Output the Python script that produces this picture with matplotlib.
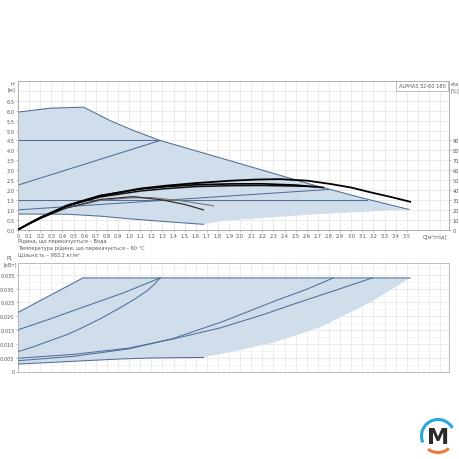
import numpy as np
import matplotlib
matplotlib.use('Agg')
import matplotlib.pyplot as plt
from matplotlib.patches import Arc

plt.rcParams['font.family'] = ['DejaVu Sans']

# ---- upper chart: head H [m] vs flow Q [m3/h]
q_max = [0, 0.29, 0.59, 0.83, 1.04, 1.28, 1.6, 2.0, 2.63, 3.1, 3.52]
h_max = [5.93, 6.13, 6.18, 5.5, 5.0, 4.5, 3.98, 3.33, 2.3, 1.6, 1.02]

q_cp_hi = [0, 1.28]
h_cp_hi = [4.5, 4.5]
q_pp_hi = [0, 1.28]
h_pp_hi = [2.25, 4.5]
q_cp_lo = [0, 3.14]
h_cp_lo = [1.5, 1.5]
q_pp_lo = [0, 2.8]
h_pp_lo = [1.0, 2.03]

q_min = [0, 0.45, 0.75, 1.0, 1.3, 1.67]
h_min = [0.79, 0.78, 0.68, 0.55, 0.42, 0.27]

q_edge = [1.67, 1.75, 1.85, 2.3, 2.72, 3.1, 3.52]
h_edge = [0.27, 0.36, 0.45, 0.63, 0.79, 0.9, 1.02]

# efficiency curves, eta [%]
q_eta1 = [0, 0.1, 0.2, 0.44, 0.74, 1.1, 1.34, 1.6, 1.91, 2.15, 2.36, 2.6, 2.81, 3.0, 3.17, 3.35, 3.53]
eta1 = [0, 6, 11.5, 24, 34, 41.5, 44.5, 47, 49.4, 50.6, 51, 49.5, 46.2, 42.5, 37.8, 33.2, 28.2]
q_eta2 = [0, 0.1, 0.2, 0.44, 0.74, 1.1, 1.34, 1.6, 1.91, 2.2, 2.5, 2.75]
eta2 = [0, 6.2, 12, 24.5, 34.5, 41, 43.5, 45.3, 46.2, 46.3, 45, 42.5]
q_eta3 = [0, 0.1, 0.2, 0.44, 0.74, 1.1, 1.34, 1.6, 1.91, 2.2, 2.5, 2.68]
eta3 = [0, 6.5, 12.5, 24, 33, 39, 41.5, 43.5, 44.4, 44.6, 44, 43.5]
q_eta4 = [0, 0.1, 0.2, 0.44, 0.74, 1.04, 1.3, 1.5, 1.67]
eta4 = [0, 6, 11.5, 22, 30.5, 33.4, 30, 25.5, 20]
q_eta5 = [0, 0.1, 0.2, 0.44, 0.74, 1.0, 1.2, 1.45, 1.76]
eta5 = [0, 6, 11.5, 22, 29.5, 32, 32.4, 29.5, 24.2]

# ---- lower chart: power P1 [kW]
q_pmax = [0, 0.585, 3.53]
p_max = [0.0214, 0.0339, 0.0339]
q_p_cphi = [0, 0.3, 0.585, 0.95, 1.28]
p_cphi = [0.0151, 0.0192, 0.0233, 0.0285, 0.0339]
q_p_pphi = [0, 0.15, 0.29, 0.45, 0.585, 0.75, 0.95, 1.05, 1.16, 1.22, 1.28]
p_pphi = [0.0072, 0.0091, 0.0112, 0.0135, 0.016, 0.0193, 0.0238, 0.0262, 0.0292, 0.0313, 0.0339]
q_p_cplo = [0, 0.5, 1.0, 1.4, 1.82, 2.2, 2.51, 2.85, 3.19]
p_cplo = [0.0048, 0.0062, 0.0085, 0.0118, 0.0158, 0.0205, 0.0248, 0.0293, 0.0339]
q_p_pplo = [0, 0.5, 1.0, 1.4, 1.85, 2.33, 2.6, 2.84]
p_pplo = [0.0039, 0.0055, 0.0082, 0.012, 0.0182, 0.0258, 0.0298, 0.0339]
q_pmin = [0, 0.3, 0.6, 0.9, 1.2, 1.67]
p_min = [0.0027, 0.0033, 0.0039, 0.0045, 0.0049, 0.0051]
q_pedge = [1.67, 1.75, 1.91, 2.3, 2.72, 3.17, 3.53]
p_pedge = [0.0051, 0.0058, 0.007, 0.0105, 0.016, 0.025, 0.0339]

x_ticks = np.round(np.arange(0, 3.51, 0.1), 1)
h_ticks = np.arange(0, 6.51, 0.5)
eta_ticks = np.arange(0, 91, 10)
p_ticks = np.arange(0, 0.0351, 0.005)

info = ['Рідина, що перекачується – Вода',
        'Температура рідини, що перекачується – 60 °C',
        'Щільність – 983.2 кг/м³']

FILL = '#d0deeb'
LINE = '#4f6e98'
GRID = '#e3e3e3'
SPINE = '#b0b0b0'
TXT = '#555555'
FS = 3.6
W, Hpx = 460, 460
XMAX = 3.88


def fx(px):
    return px / W


def fy(py):
    return 1 - py / Hpx


def style(ax):
    for s in ax.spines.values():
        s.set_color(SPINE)
        s.set_linewidth(0.6)
    ax.tick_params(length=1.5, width=0.4, color='#888888', labelsize=FS,
                   labelcolor=TXT, pad=1)


fig = plt.figure(figsize=(4.6, 4.6), dpi=100)

# upper chart
ax = fig.add_axes([fx(18), fy(230.7), fx(449 - 18), (230.7 - 82) / Hpx])
ax.set_xlim(0, XMAX)
ax.set_ylim(0, 7.5)
grid_x = np.round(np.arange(0, XMAX, 0.1), 1)
for g in grid_x:
    ax.axvline(g, color=GRID, lw=0.5, zorder=0)
for g in np.arange(0.5, 7.5, 0.5):
    ax.axhline(g, color=GRID, lw=0.5, zorder=0)

poly_q = list(q_max) + q_edge[::-1] + q_min[::-1]
poly_h = list(h_max) + h_edge[::-1] + h_min[::-1]
ax.fill(poly_q, poly_h, color=FILL, lw=0, zorder=1)

for q, h in [(q_max, h_max), (q_cp_hi, h_cp_hi), (q_pp_hi, h_pp_hi),
             (q_cp_lo, h_cp_lo), (q_pp_lo, h_pp_lo), (q_min, h_min)]:
    ax.plot(q, h, color=LINE, lw=0.75, zorder=3)

ax.set_xticks(x_ticks)
ax.set_xticklabels(['0'] + ['%.1f' % v for v in x_ticks[1:]])
ax.set_yticks(h_ticks)
ax.set_yticklabels(['%.1f' % v for v in h_ticks])
style(ax)

ax2 = ax.twinx()
ax2.set_ylim(0, 150)
ax2.set_yticks(eta_ticks)
ax2.set_yticklabels([str(v) for v in eta_ticks])
style(ax2)
ax2.plot(q_eta5, eta5, color='#777777', lw=0.8, zorder=4)
ax2.plot(q_eta4, eta4, color='#333333', lw=0.9, zorder=4)
ax2.plot(q_eta3, eta3, color='#111111', lw=1.1, zorder=4)
ax2.plot(q_eta2, eta2, color='#000000', lw=1.2, zorder=4)
ax2.plot(q_eta1, eta1, color='#000000', lw=1.3, zorder=4)

ax.text(0.992, 0.985, 'ALPHA3 32-60 180', transform=ax.transAxes, ha='right',
        va='top', fontsize=FS, color=TXT,
        bbox=dict(boxstyle='square,pad=0.5', fc='white', ec='#aaaaaa', lw=0.5))

fig.text(fx(12), fy(84), 'H', fontsize=FS, color=TXT, ha='center', va='center')
fig.text(fx(12), fy(90), '[м]', fontsize=FS, color=TXT, ha='center', va='center')
fig.text(fx(455), fy(85), 'eta', fontsize=FS, color=TXT, ha='center', va='center')
fig.text(fx(455), fy(91), '[%]', fontsize=FS, color=TXT, ha='center', va='center')
fig.text(fx(435), fy(236.5), 'Q[м³/год]', fontsize=FS, color=TXT,
         ha='center', va='center')

for i, line in enumerate(info):
    fig.text(fx(18), fy(242 + i * 6.5), line, fontsize=FS, color=TXT,
             ha='left', va='center')

# lower chart
bx = fig.add_axes([fx(18), fy(372.5), fx(449 - 18), (372.5 - 264) / Hpx])
bx.set_xlim(0, XMAX)
bx.set_ylim(0, 0.0393)
for g in grid_x:
    bx.axvline(g, color=GRID, lw=0.5, zorder=0)
for g in np.arange(0.005, 0.039, 0.005):
    bx.axhline(g, color=GRID, lw=0.5, zorder=0)
for g in np.arange(0.0025, 0.039, 0.005):
    bx.axhline(g, color='#eeeeee', lw=0.4, zorder=0)

ppoly_q = list(q_pmax) + q_pedge[::-1] + q_pmin[::-1]
ppoly_p = list(p_max) + p_pedge[::-1] + p_min[::-1]
bx.fill(ppoly_q, ppoly_p, color=FILL, lw=0, zorder=1)
for q, p in [(q_pmax, p_max), (q_p_cphi, p_cphi), (q_p_pphi, p_pphi),
             (q_p_cplo, p_cplo), (q_p_pplo, p_pplo), (q_pmin, p_min)]:
    bx.plot(q, p, color=LINE, lw=0.75, zorder=3)

bx.set_xticks(x_ticks)
bx.set_xticklabels([])
bx.set_yticks(p_ticks)
bx.set_yticklabels(['0'] + ['%.3f' % v for v in p_ticks[1:]])
style(bx)
bx.tick_params(axis='x', length=0)

fig.text(fx(10), fy(259), 'P1', fontsize=FS, color=TXT, ha='center', va='center')
fig.text(fx(10), fy(265), '[кВт]', fontsize=FS, color=TXT, ha='center', va='center')

# logo
lg = fig.add_axes([fx(438 - 22), fy(437 + 22), fx(44), 44 / Hpx])
lg.set_xlim(-1, 1)
lg.set_ylim(-1, 1)
lg.axis('off')
lg.add_patch(Arc((0, 0), 1.5, 1.5, theta1=29, theta2=203, color='#2aa7df', lw=2.2))
lg.add_patch(Arc((0, 0), 1.5, 1.5, theta1=233, theta2=311, color='#ea7a3b', lw=2.2))
lg.text(0, -0.05, 'M', fontsize=16, fontweight='bold', color='#2b2b2b',
        ha='center', va='center')

fig.savefig('out.png', dpi=100)
